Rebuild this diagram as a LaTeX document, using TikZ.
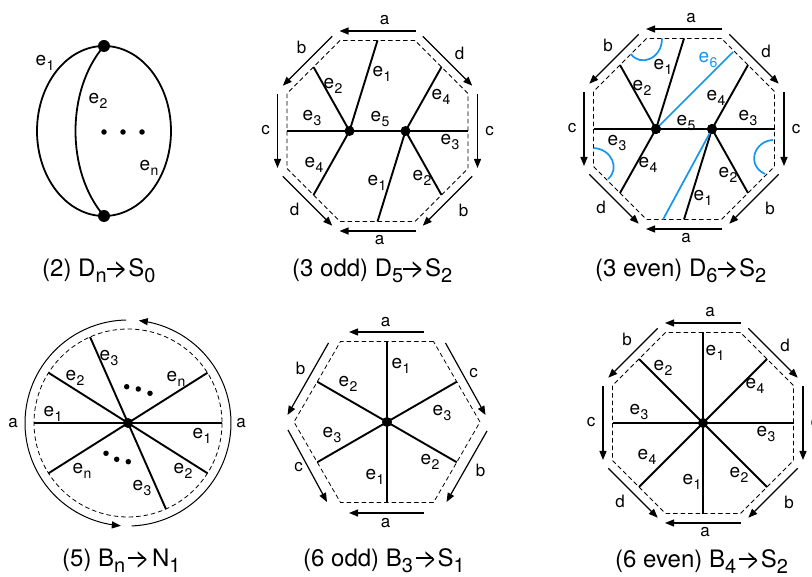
\documentclass[tikz,border=0pt]{standalone}
\usepackage{fontspec}
\setmainfont{TeX Gyre Heros}
\usetikzlibrary{arrows.meta}
\definecolor{eblue}{RGB}{20,150,240}
\newcommand{\ee}[1]{e\kern0.3pt\raisebox{-4.5pt}{\fontsize{14pt}{14pt}\selectfont #1}}
\newcommand{\cs}[1]{\raisebox{-6pt}{\fontsize{20pt}{20pt}\selectfont #1}}
\newcommand{\carr}{\rule[7.2pt]{17pt}{1.8pt}\kern-10.5pt{\fontsize{26pt}{26pt}\selectfont >}}
\tikzset{
  spoke/.style={line width=1.9pt},
  bord/.style={line width=0.8pt, dash pattern=on 4.5pt off 3pt},
  sidearr/.style={-{Triangle[length=9pt,width=7pt]}, line width=1.2pt},
  vtx/.style={circle, fill, inner sep=0pt, minimum size=#1},
  vtx/.default=10pt,
  dotn/.style={circle, fill, inner sep=0pt, minimum size=5.5pt},
  elab/.style={font=\fontsize{19pt}{19pt}\selectfont, inner sep=0pt},
  olab/.style={font=\fontsize{17pt}{17pt}\selectfont, inner sep=0pt},
  capt/.style={font=\fontsize{24pt}{24pt}\selectfont, inner sep=0pt, anchor=base west},
  bluel/.style={eblue, line width=1.7pt}
}
\newcommand{\octagon}[1]{%
  \draw[bord] (37.5,-90.5) -- (-37.5,-90.5) -- (-90.5,-37.5) -- (-90.5,37.5) -- (-37.5,90.5) -- (37.5,90.5) -- (90.5,37.5) -- (90.5,-37.5) -- cycle;
  \coordinate (#1T) at (0,-90.5);
  \coordinate (#1UL) at (-64,-64);
  \coordinate (#1L) at (-90.5,0);
  \coordinate (#1LL) at (-64,64);
  \coordinate (#1B) at (0,90.5);
  \coordinate (#1LR) at (64,64);
  \coordinate (#1R) at (90.5,0);
  \coordinate (#1UR) at (64,-64);
  \draw[sidearr] (38,-100) -- (-38,-100);
  \draw[sidearr] (-45.3,-94.7) -- (-94.7,-45.3);
  \draw[sidearr] (-100,-37) -- (-100,37);
  \draw[sidearr] (-94.7,45.3) -- (-45.3,94.7);
  \draw[sidearr] (38,100) -- (-38,100);
  \draw[sidearr] (94.7,45.3) -- (45.3,94.7);
  \draw[sidearr] (100,-37) -- (100,37);
  \draw[sidearr] (45.3,-94.7) -- (94.7,-45.3);
  \node[olab] (#1la1) at (7,-111) {a};
  \node[olab] (#1lb1) at (-76,-84) {b};
  \node[olab] (#1lc1) at (-112,-1) {c};
  \node[olab] (#1ld1) at (-83,78) {d};
  \node[olab] (#1la2) at (2,109) {a};
  \node[olab] (#1lb2) at (86,79) {b};
  \node[olab] (#1lc2) at (112,0) {c};
  \node[olab] (#1ld2) at (82,-78) {d};
}
\begin{document}
\begin{tikzpicture}[x=1pt,y=-1pt]
\useasboundingbox[fill=white] (0,0) rectangle (812,577);

% ---------- Panel 1: D_n -> S_0
\draw[line width=1.8pt] (104,131) ellipse [x radius=67, y radius=85];
\node[vtx=12pt] (p1t) at (104,46) {};
\node[vtx=12pt] (p1b) at (104,216) {};
\draw[line width=1.8pt] (p1t.center) .. controls (66,90) and (66,172) .. (p1b.center);
\node[dotn] (p1d1) at (104,132) {};
\node[dotn] (p1d2) at (123,132) {};
\node[dotn] (p1d3) at (142,132) {};
\node[elab] (p1e1) at (45,63) {\ee{1}};
\node[elab] (p1e2) at (98,101) {\ee{2}};
\node[elab] (p1en) at (149,168) {\ee{n}};
\node[capt] (cap1) at (42,277) {(2) D\cs{n}\carr S\cs{0}};

% ---------- Panel 2: 3 odd
\begin{scope}[shift={(377.5,131)}]
  \octagon{q}
  \node[vtx] (qv1) at (-28,0) {};
  \node[vtx] (qv2) at (28,0) {};
  \draw[spoke] (qv1.center) -- (qT);
  \draw[spoke] (qv1.center) -- (qUL);
  \draw[spoke] (qv1.center) -- (qL);
  \draw[spoke] (qv1.center) -- (qLL);
  \draw[spoke] (qv1.center) -- (qv2.center);
  \draw[spoke] (qv2.center) -- (qUR);
  \draw[spoke] (qv2.center) -- (qR);
  \draw[spoke] (qv2.center) -- (qLR);
  \draw[spoke] (qv2.center) -- (qB);
\end{scope}
\node[elab] (qe1a) at (382,74) {\ee{1}};
\node[elab] (qe2a) at (333,86) {\ee{2}};
\node[elab] (qe3a) at (312,118) {\ee{3}};
\node[elab] (qe5) at (380,119) {\ee{5}};
\node[elab] (qe4a) at (441,97) {\ee{4}};
\node[elab] (qe3b) at (450,142) {\ee{3}};
\node[elab] (qe4b) at (314,165) {\ee{4}};
\node[elab] (qe1b) at (377,183) {\ee{1}};
\node[elab] (qe2b) at (422,178) {\ee{2}};
\node[capt] (cap2) at (292,277) {(3 odd) D\cs{5}\carr S\cs{2}};

% ---------- Panel 3: 3 even
\begin{scope}[shift={(684,129)}]
  \octagon{r}
  \coordinate (rBt) at (49,-77);
  \coordinate (rBb) at (-21,90.5);
  \node[vtx] (rv1) at (-28,0) {};
  \node[vtx] (rv2) at (28,0) {};
  \draw[spoke] (rv1.center) -- (rT);
  \draw[spoke] (rv1.center) -- (rUL);
  \draw[spoke] (rv1.center) -- (rL);
  \draw[spoke] (rv1.center) -- (rLL);
  \draw[spoke] (rv1.center) -- (rv2.center);
  \draw[spoke] (rv2.center) -- (rUR);
  \draw[spoke] (rv2.center) -- (rR);
  \draw[spoke] (rv2.center) -- (rLR);
  \draw[spoke] (rv2.center) -- (rB);
  \draw[bluel] (rv1.center) -- (rBt);
  \draw[bluel] (rv2.center) -- (rBb);
  \draw[bluel] (-53,-75) .. controls (-44,-62) and (-22,-70) .. (-22,-90.5);
  \draw[bluel] (-90.5,19) .. controls (-72,20) and (-64,40) .. (-76,50);
  \draw[bluel] (89,11) .. controls (70,12) and (62,36) .. (81,45);
  \fill (rv1) circle (5pt);
  \fill (rv2) circle (5pt);
\end{scope}
\node[elab] (re1a) at (663,67) {\ee{1}};
\node[elab, text=eblue] (re6) at (708,60) {\ee{6}};
\node[elab] (re2a) at (642,88) {\ee{2}};
\node[elab] (re4a) at (716,98) {\ee{4}};
\node[elab] (re3a) at (748,118) {\ee{3}};
\node[elab] (re5) at (686,123) {\ee{5}};
\node[elab] (re3b) at (617,143) {\ee{3}};
\node[elab] (re4b) at (648,165) {\ee{4}};
\node[elab] (re2b) at (728,175) {\ee{2}};
\node[elab] (re1b) at (703,198) {\ee{1}};
\node[capt] (cap3) at (595,277) {(3 even) D\cs{6}\carr S\cs{2}};

% ---------- Panel 4: B_n -> N_1
\begin{scope}[shift={(128,423)}]
  \draw[bord] (0,0) circle [radius=94];
  \draw[sidearr, line width=1pt] plot[domain=-91:-266, samples=80] (\x:103);
  \draw[sidearr, line width=1pt] plot[domain=-272:-444, samples=80] (\x:103);
  \node[vtx] (sv) at (0,0) {};
  \coordinate (s1a) at (180:94);
  \coordinate (s1b) at (0:94);
  \coordinate (s2a) at (-147.7:94);
  \coordinate (s2b) at (32.3:94);
  \coordinate (s3a) at (-113.8:94);
  \coordinate (s3b) at (66.2:94);
  \coordinate (sna) at (-32.3:94);
  \coordinate (snb) at (147.7:94);
  \draw[spoke] (s1a) -- (sv.center) -- (s1b);
  \draw[spoke] (s2a) -- (sv.center) -- (s2b);
  \draw[spoke] (s3a) -- (sv.center) -- (s3b);
  \draw[spoke] (sna) -- (sv.center) -- (snb);
\end{scope}
\node[olab] (sla1) at (13,423) {a};
\node[olab] (sla2) at (241,423) {a};
\node[dotn] (sd1) at (126.7,386.7) {};
\node[dotn] (sd2) at (138.3,389) {};
\node[dotn] (sd3) at (150,393.3) {};
\node[dotn] (sd4) at (106,453.3) {};
\node[dotn] (sd5) at (116.7,459.3) {};
\node[dotn] (sd6) at (128.3,461.7) {};
\node[elab] (se3a) at (109,358) {\ee{3}};
\node[elab] (se2a) at (75,378) {\ee{2}};
\node[elab] (sena) at (176,379) {\ee{n}};
\node[elab] (se1a) at (53,414) {\ee{1}};
\node[elab] (se1b) at (202,436) {\ee{1}};
\node[elab] (senb) at (82,471) {\ee{n}};
\node[elab] (se2b) at (183,471) {\ee{2}};
\node[elab] (se3b) at (142,488) {\ee{3}};
\node[capt] (cap4) at (62,566) {(5) B\cs{n}\kern3pt\carr\kern2pt N\cs{1}};

% ---------- Panel 5: 6 odd
\begin{scope}[shift={(387,422)}]
  \draw[bord] (46.5,-80.5) -- (-46.5,-80.5) -- (-93,0) -- (-46.5,80.5) -- (46.5,80.5) -- (93,0) -- cycle;
  \coordinate (tT) at (0,-80.5);
  \coordinate (tUL) at (-69.75,-40.25);
  \coordinate (tLL) at (-69.75,40.25);
  \coordinate (tB) at (0,80.5);
  \coordinate (tLR) at (69.75,40.25);
  \coordinate (tUR) at (69.75,-40.25);
  \node[vtx] (tv) at (0,0) {};
  \draw[spoke] (tT) -- (tv.center) -- (tB);
  \draw[spoke] (tUL) -- (tv.center) -- (tLR);
  \draw[spoke] (tUR) -- (tv.center) -- (tLL);
  \draw[sidearr] (37,-90) -- (-38,-90);
  \draw[sidearr] (-58.5,-79) -- (-99.5,-7);
  \draw[sidearr] (58.5,-79) -- (98.5,-7);
  \draw[sidearr] (-99,8) -- (-60,80);
  \draw[sidearr] (100,9) -- (59.5,80);
  \draw[sidearr] (37,91) -- (-38,91);
  \node[olab] (tla1) at (-1.5,-100) {a};
  \node[olab] (tlb1) at (-86.5,-54) {b};
  \node[olab] (tlc1) at (86.5,-49) {c};
  \node[olab] (tlc2) at (-88.5,45) {c};
  \node[olab] (tlb2) at (93.5,48) {b};
  \node[olab] (tla2) at (-1.5,101) {a};
\end{scope}
\node[elab] (te1a) at (401,366) {\ee{1}};
\node[elab] (te2a) at (348,384) {\ee{2}};
\node[elab] (te3a) at (442,413) {\ee{3}};
\node[elab] (te3b) at (332,435) {\ee{3}};
\node[elab] (te2b) at (430,462) {\ee{2}};
\node[elab] (te1b) at (375,477) {\ee{1}};
\node[capt] (cap5) at (303,566) {(6 odd) B\cs{3}\kern3pt\carr S\cs{1}};

% ---------- Panel 6: 6 even
\begin{scope}[shift={(703,423)}]
  \octagon{u}
  \node[vtx] (uv) at (0,0) {};
  \draw[spoke] (uT) -- (uv.center) -- (uB);
  \draw[spoke] (uUL) -- (uv.center) -- (uLR);
  \draw[spoke] (uL) -- (uv.center) -- (uR);
  \draw[spoke] (uUR) -- (uv.center) -- (uLL);
\end{scope}
\node[elab] (ue1a) at (715,353) {\ee{1}};
\node[elab] (ue2a) at (663,368) {\ee{2}};
\node[elab] (ue4a) at (755,386) {\ee{4}};
\node[elab] (ue3a) at (639,412) {\ee{3}};
\node[elab] (ue3b) at (766,434) {\ee{3}};
\node[elab] (ue4b) at (647,457) {\ee{4}};
\node[elab] (ue1b) at (692,482) {\ee{1}};
\node[elab] (ue2b) at (739,475) {\ee{2}};
\node[capt] (cap6) at (615,567) {(6 even) B\cs{4}\kern3pt\carr S\cs{2}};
\end{tikzpicture}
\end{document}
